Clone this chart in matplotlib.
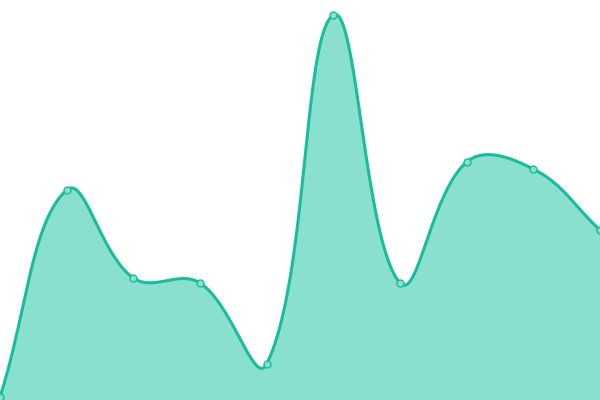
import numpy as np
import matplotlib
matplotlib.use("Agg")
import matplotlib.pyplot as plt

# data (y axis 0..400)
x_vals = [0, 1, 2, 3, 4, 5, 6, 7, 8, 9]
y_vals = [3, 210, 122, 117, 36, 385, 117, 238, 231, 170]

line_color = "#1abc9c"
fill_color = "#8ae0cf"

W, H = 600, 400


def smooth_curve(xs, ys, tension=0.4, n=40):
    # spline like chart.js: control points weighted by segment length (in pixels)
    px_ = np.asarray(xs, float) * W / (len(xs) - 1)
    py_ = np.asarray(ys, float)
    last = len(px_) - 1
    cp_in = np.zeros((last + 1, 2))
    cp_out = np.zeros((last + 1, 2))
    for i in range(last + 1):
        p = np.array([px_[i], py_[i]])
        prev = np.array([px_[max(i - 1, 0)], py_[max(i - 1, 0)]])
        nxt = np.array([px_[min(i + 1, last)], py_[min(i + 1, last)]])
        d01 = np.hypot(*(p - prev))
        d12 = np.hypot(*(nxt - p))
        tot = d01 + d12
        s01 = d01 / tot if tot else 0
        s12 = d12 / tot if tot else 0
        cp_in[i] = p - tension * s01 * (nxt - prev)
        cp_out[i] = p + tension * s12 * (nxt - prev)
    cp_in[:, 0] = np.clip(cp_in[:, 0], 0, W)
    cp_out[:, 0] = np.clip(cp_out[:, 0], 0, W)
    cp_in[:, 1] = np.clip(cp_in[:, 1], 0, H)
    cp_out[:, 1] = np.clip(cp_out[:, 1], 0, H)
    sx, sy = [], []
    for i in range(last):
        t = np.linspace(0, 1, n, endpoint=(i == last - 1))
        a = (1 - t) ** 3
        b = 3 * (1 - t) ** 2 * t
        c = 3 * (1 - t) * t ** 2
        d = t ** 3
        sx.append(a * px_[i] + b * cp_out[i, 0] + c * cp_in[i + 1, 0] + d * px_[i + 1])
        sy.append(a * py_[i] + b * cp_out[i, 1] + c * cp_in[i + 1, 1] + d * py_[i + 1])
    scale = (len(xs) - 1) / W
    return np.concatenate(sx) * scale, np.concatenate(sy)


fig = plt.figure(figsize=(6, 4), dpi=100)
ax = fig.add_axes([0, 0, 1, 1])

sx, sy = smooth_curve(x_vals, y_vals)
ax.fill_between(sx, 0, sy, color=fill_color, lw=0)
ax.plot(sx, sy, color=line_color, lw=2.2, solid_capstyle="round")
ax.plot(x_vals, y_vals, "o", ms=5, mfc=fill_color, mec=line_color, mew=1.0)

ax.set_xlim(0, 9)
ax.set_ylim(0, 400)
ax.axis("off")

fig.savefig("out.png", dpi=100)
